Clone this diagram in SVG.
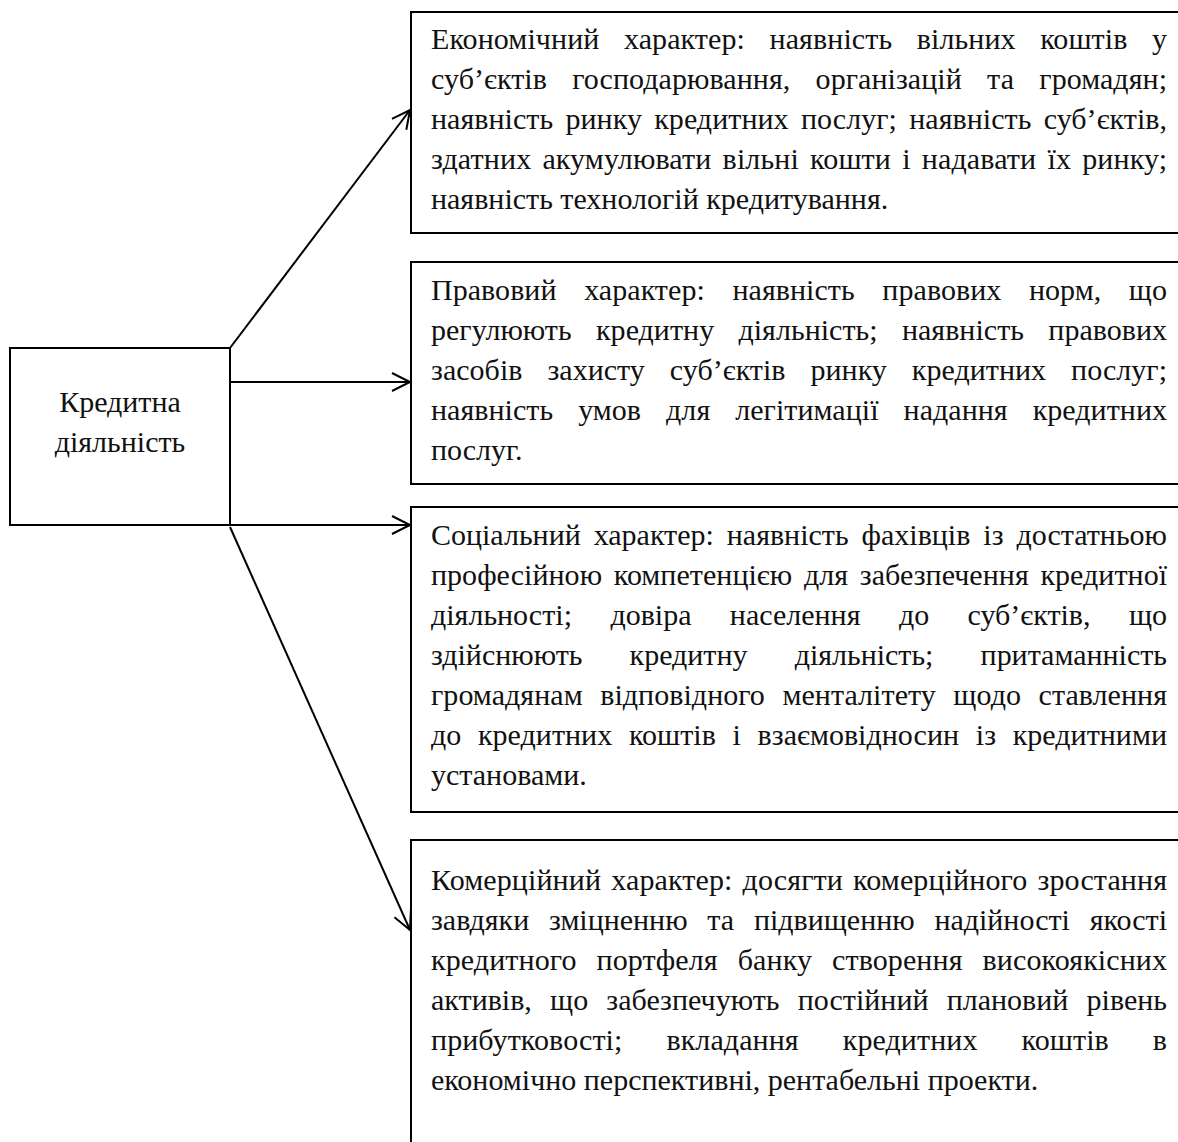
<svg xmlns="http://www.w3.org/2000/svg" width="1178" height="1142" viewBox="0 0 1178 1142">
<style>
.box{fill:#fff;stroke:#000;stroke-width:2}
.t{font-family:"Liberation Serif","Times New Roman",serif;font-size:30px;fill:#111}
.j{font-family:"Liberation Serif","Times New Roman",serif;font-size:30px;fill:#111}
.c{stroke:#000;stroke-width:2;fill:none}
</style>
<defs>
<marker id="arr" markerUnits="userSpaceOnUse" markerWidth="24" markerHeight="24" refX="21" refY="12" orient="auto">
<path d="M3,3 L21,12 L3,21" fill="none" stroke="#000" stroke-width="2"/>
</marker>
</defs>
<rect width="1178" height="1142" fill="#fff"/>
<g id="center">
<rect class="box" x="10" y="348" width="220" height="177"/>
<text class="t" x="120" y="412" text-anchor="middle">Кредитна</text>
<text class="t" x="120" y="452" text-anchor="middle">діяльність</text>
</g>
<g id="economic">
<rect class="box" x="411" y="12" width="800" height="221"/>
<text class="j" x="431" y="49" textLength="736" lengthAdjust="spacing" word-spacing="16.9">Економічний характер: наявність вільних коштів у</text>
<text class="j" x="431" y="89" textLength="736" lengthAdjust="spacing" word-spacing="17.7">суб’єктів господарювання, організацій та громадян;</text>
<text class="j" x="431" y="129" textLength="736" lengthAdjust="spacing" word-spacing="4.8">наявність ринку кредитних послуг; наявність суб’єктів,</text>
<text class="j" x="431" y="169" textLength="736" lengthAdjust="spacing" word-spacing="3.5">здатних акумулювати вільні кошти і надавати їх ринку;</text>
<text class="t" x="431" y="209">наявність технологій кредитування.</text>
</g>
<g id="legal">
<rect class="box" x="411" y="262" width="800" height="222"/>
<text class="j" x="431" y="300" textLength="736" lengthAdjust="spacing" word-spacing="20.1">Правовий характер: наявність правових норм, що</text>
<text class="j" x="431" y="340" textLength="736" lengthAdjust="spacing" word-spacing="16.8">регулюють кредитну діяльність; наявність правових</text>
<text class="j" x="431" y="380" textLength="736" lengthAdjust="spacing" word-spacing="17.4">засобів захисту суб’єктів ринку кредитних послуг;</text>
<text class="j" x="431" y="420" textLength="736" lengthAdjust="spacing" word-spacing="17.5">наявність умов для легітимації надання кредитних</text>
<text class="t" x="431" y="460">послуг.</text>
</g>
<g id="social">
<rect class="box" x="411" y="507" width="800" height="305"/>
<text class="j" x="431" y="545" textLength="736" lengthAdjust="spacing" word-spacing="5.5">Соціальний характер: наявність фахівців із достатньою</text>
<text class="j" x="431" y="585" textLength="736" lengthAdjust="spacing" word-spacing="4.2">професійною компетенцією для забезпечення кредитної</text>
<text class="j" x="431" y="625" textLength="736" lengthAdjust="spacing" word-spacing="30.9">діяльності; довіра населення до суб’єктів, що</text>
<text class="j" x="431" y="665" textLength="736" lengthAdjust="spacing" word-spacing="39.7">здійснюють кредитну діяльність; притаманність</text>
<text class="j" x="431" y="705" textLength="736" lengthAdjust="spacing" word-spacing="10">громадянам відповідного менталітету щодо ставлення</text>
<text class="j" x="431" y="745" textLength="736" lengthAdjust="spacing" word-spacing="9.2">до кредитних коштів і взаємовідносин із кредитними</text>
<text class="t" x="431" y="785">установами.</text>
</g>
<g id="commercial">
<rect class="box" x="411" y="840" width="800" height="400"/>
<text class="j" x="431" y="890" textLength="736" lengthAdjust="spacing" word-spacing="2.5">Комерційний характер: досягти комерційного зростання</text>
<text class="j" x="431" y="930" textLength="736" lengthAdjust="spacing" word-spacing="12.3">завдяки зміцненню та підвищенню надійності якості</text>
<text class="j" x="431" y="970" textLength="736" lengthAdjust="spacing" word-spacing="12.4">кредитного портфеля банку створення високоякісних</text>
<text class="j" x="431" y="1010" textLength="736" lengthAdjust="spacing" word-spacing="10.7">активів, що забезпечують постійний плановий рівень</text>
<text class="j" x="431" y="1050" textLength="736" lengthAdjust="spacing" word-spacing="36.4">прибутковості; вкладання кредитних коштів в</text>
<text class="t" x="431" y="1090">економічно перспективні, рентабельні проекти.</text>
</g>
<g id="connectors">
<line class="c" x1="230" y1="348" x2="410" y2="110" marker-end="url(#arr)"/>
<line class="c" x1="230" y1="382" x2="410" y2="382" marker-end="url(#arr)"/>
<line class="c" x1="230" y1="525" x2="410" y2="525" marker-end="url(#arr)"/>
<line class="c" x1="230" y1="527" x2="410" y2="930" marker-end="url(#arr)"/>
</g>
</svg>
